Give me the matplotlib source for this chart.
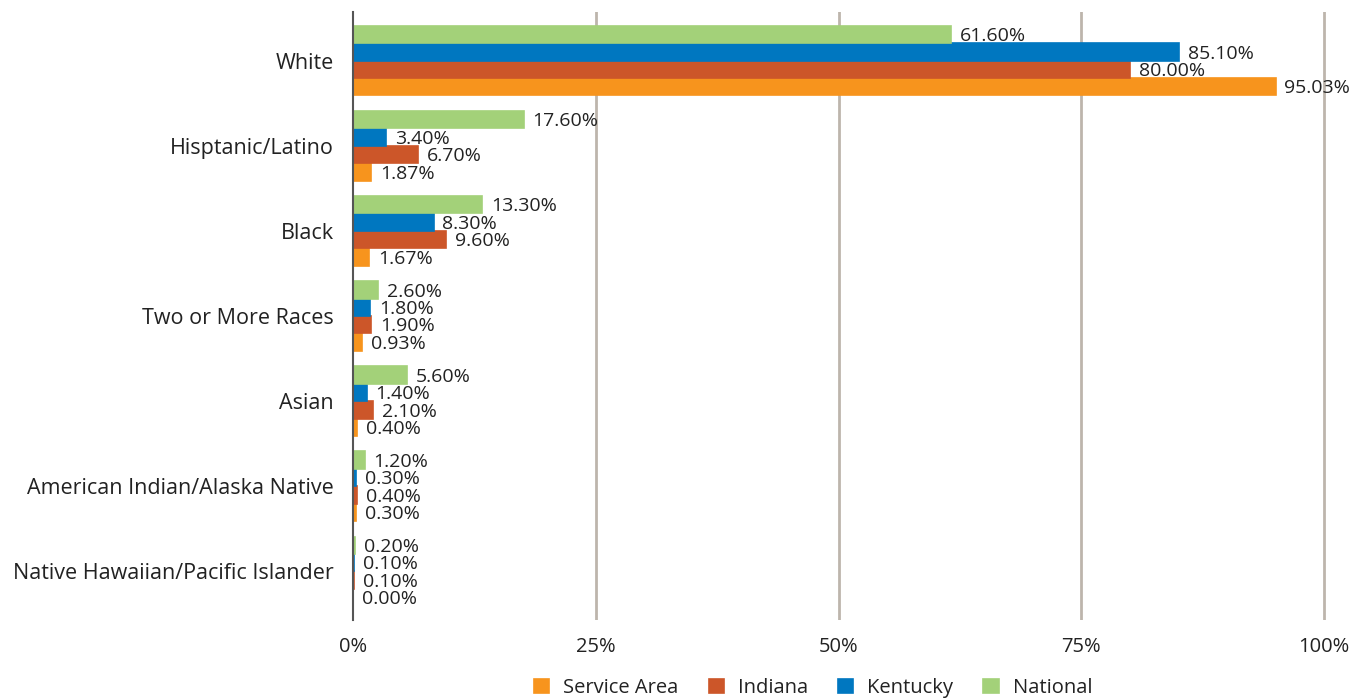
import matplotlib
matplotlib.use("Agg")
import matplotlib.pyplot as plt
import numpy as np

categories = ["White", "Hisptanic/Latino", "Black", "Two or More Races", "Asian",
              "American Indian/Alaska Native", "Native Hawaiian/Pacific Islander"]
service_area = [95.03, 1.87, 1.67, 0.93, 0.40, 0.30, 0.00]
indiana = [80.00, 6.70, 9.60, 1.90, 2.10, 0.40, 0.10]
kentucky = [85.10, 3.40, 8.30, 1.80, 1.40, 0.30, 0.10]
national = [61.60, 17.60, 13.30, 2.60, 5.60, 1.20, 0.20]
series_names = ["Service Area", "Indiana", "Kentucky", "National"]
colors = ["#F7941D", "#CC5629", "#0077C0", "#A3D179"]
xticks = [0, 25, 50, 75, 100]
xtick_labels = ["0%", "25%", "50%", "75%", "100%"]

plt.rcParams['font.family'] = ['Open Sans', 'DejaVu Sans']

fig = plt.figure(figsize=(13.66, 7.0), dpi=100)
xmax = 100.4
ax = fig.add_axes([353/1366, 1 - 620/700, 9.71 * xmax / 1366, (620 - 12)/700])

y = np.arange(len(categories))
h = 0.205
series = [service_area, indiana, kentucky, national]
offsets = [1.5 * h, 0.5 * h, -0.5 * h, -1.5 * h]
for vals, off, c, name in zip(series, offsets, colors, series_names):
    ax.barh(y + off, vals, height=h, color=c, edgecolor=c, linewidth=1.2,
            label=name, zorder=3)
    for yi, v in zip(y, vals):
        ax.text(v + 0.9, yi + off + 0.02, f"{v:.2f}%", va="center", ha="left",
                fontsize=14, color="#222222", zorder=4)

ax.set_ylim(len(categories) - 0.43, -0.57)
ax.set_xlim(0, xmax)
ax.set_yticks(y)
ax.set_yticklabels(categories, fontsize=15.5, color="#222222")
ax.set_xticks(xticks)
ax.set_xticklabels(xtick_labels, fontsize=14.5, color="#222222")
ax.tick_params(axis="both", length=0)
ax.tick_params(axis="y", pad=14)
ax.tick_params(axis="x", pad=12)
for gx in xticks[1:]:
    ax.axvline(gx, color="#BDB5AC", lw=2, zorder=1, ymin=-0.005)
for s in ["top", "right", "bottom"]:
    ax.spines[s].set_visible(False)
ax.spines["left"].set_color("#555555")
ax.spines["left"].set_linewidth(1.5)
ax.spines["left"].set_zorder(5)

handles, labels = ax.get_legend_handles_labels()
leg = fig.legend(handles, labels, loc="center", bbox_to_anchor=(813/1366, 1 - 688/700),
                 ncol=4, frameon=False, fontsize=14.5, handlelength=0.75, handleheight=0.75,
                 columnspacing=1.5, handletextpad=0.7)
for t in leg.get_texts():
    t.set_color("#222222")

fig.savefig("out.png", dpi=100)
